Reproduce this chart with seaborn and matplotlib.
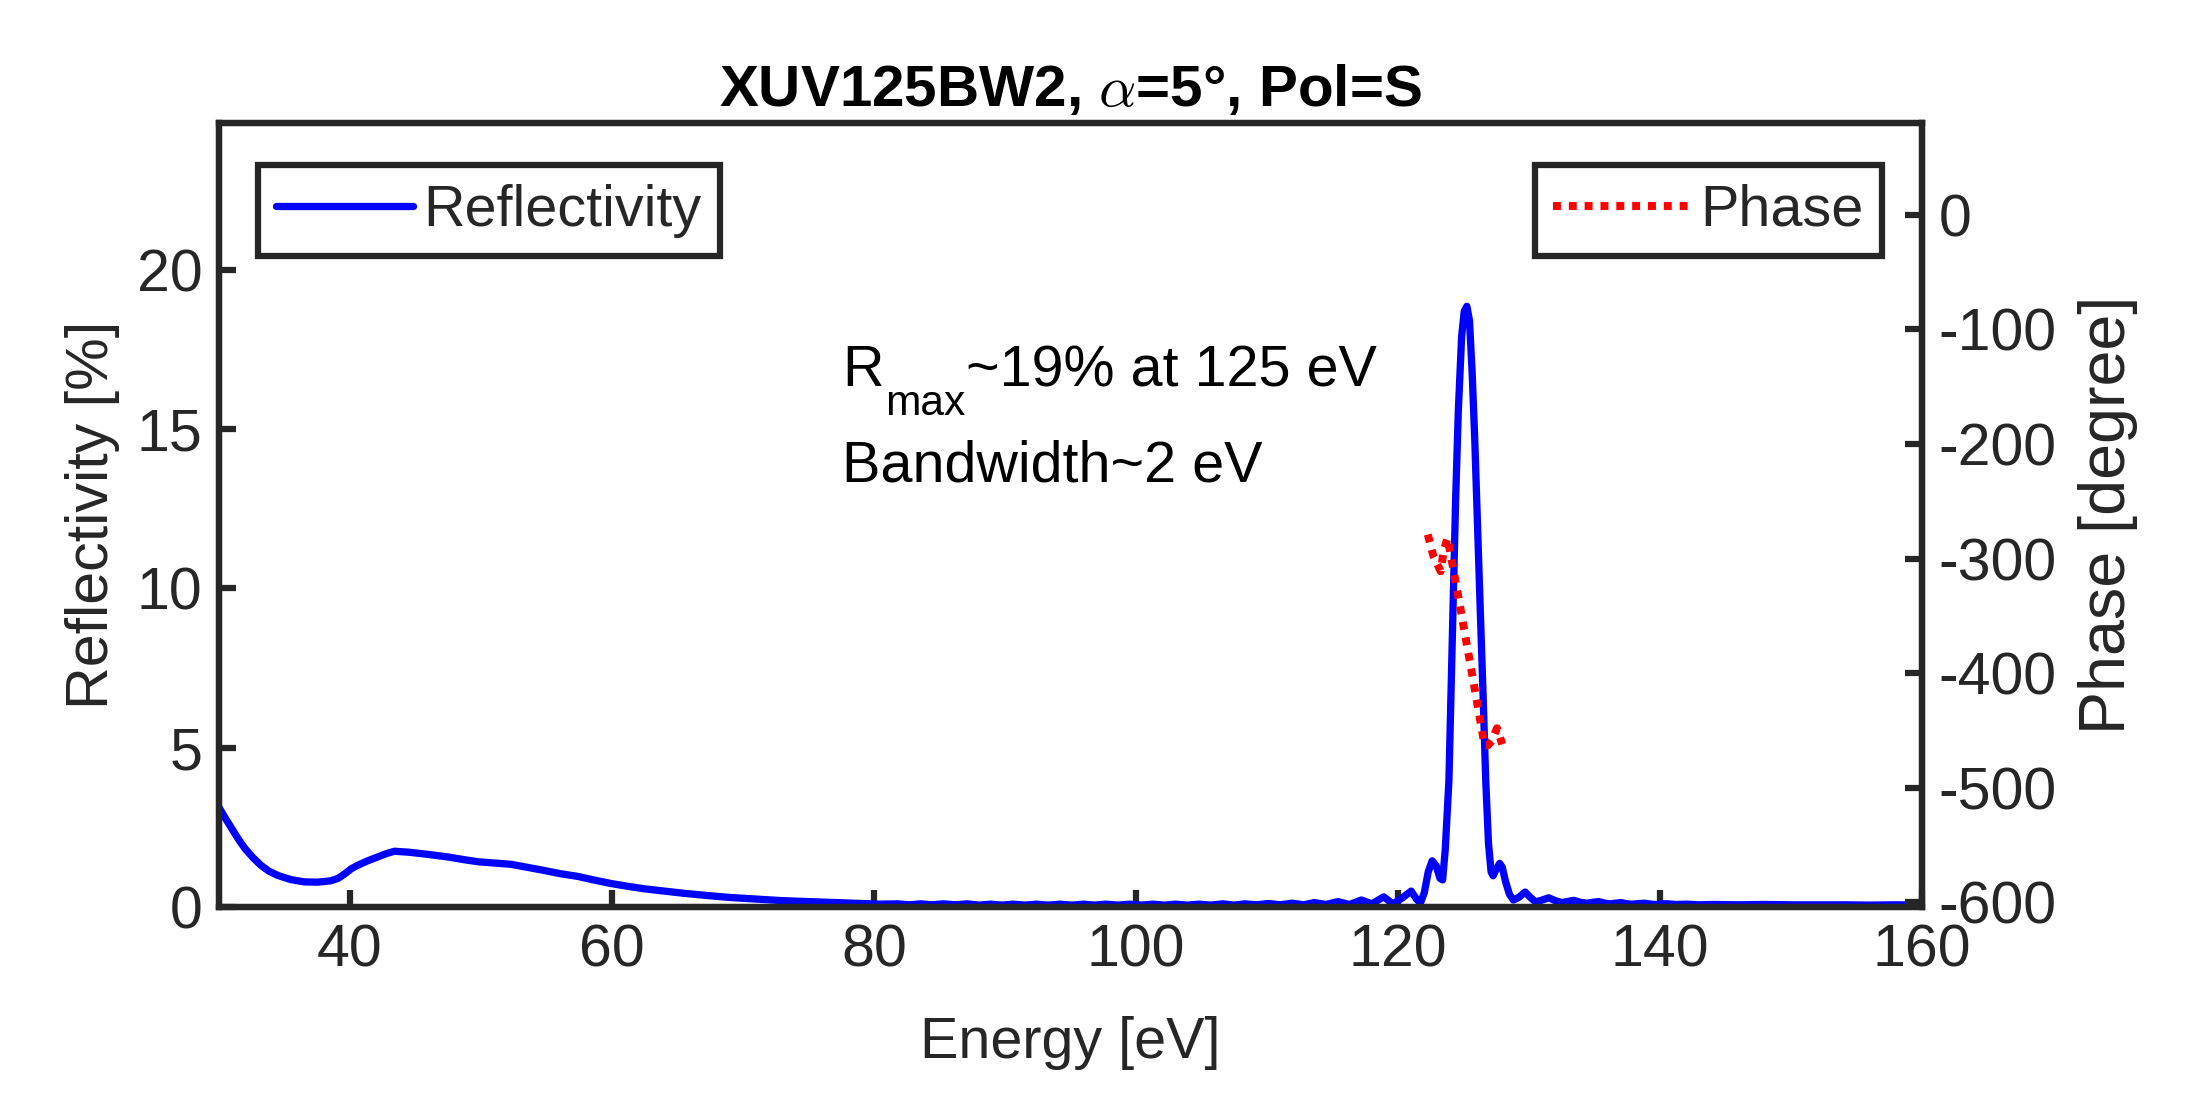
import matplotlib
matplotlib.use("Agg")
import matplotlib.pyplot as plt
import seaborn as sns

# reflectivity curve (energy in eV, R in %)
energy_refl = [30.0, 30.5, 31.0, 31.5, 32.0, 32.6, 33.2, 33.8, 34.5, 35.5,
               36.5, 37.5, 38.5, 39.1, 39.6, 40.1, 40.6, 41.3, 42.1, 42.8,
               43.4, 44.5, 46.0, 47.5, 48.8, 49.8, 51.0, 52.3, 53.5, 54.8,
               56.0, 57.4, 58.6, 59.9, 61.2, 62.5, 64.0, 65.5, 67.3, 69.0,
               71.0, 73.0, 75.0, 77.0, 79.0, 80.5, 81.8, 82.7, 83.6, 84.4,
               85.3, 86.2, 87.1, 88.0, 88.9, 89.8, 90.6, 91.5, 92.4, 93.3,
               94.2, 95.1, 96.0, 96.8, 97.7, 98.6, 99.5, 100.4, 101.3, 102.2,
               103.0, 103.9, 104.8, 105.7, 106.6, 107.5, 108.3, 109.2, 110.1, 111.0,
               111.9, 112.8, 113.6, 114.5, 115.4, 116.3, 117.2, 118.0, 118.9, 119.6,
               120.3, 121.0, 121.4, 121.7, 122.0, 122.3, 122.6, 122.9, 123.2, 123.4,
               123.6, 123.88, 124.1, 124.39, 124.6, 124.85, 125.05, 125.25, 125.45, 125.65,
               125.85, 126.0, 126.25, 126.5, 126.69, 126.9, 127.1, 127.25, 127.45, 127.75,
               127.95, 128.2, 128.5, 128.8, 129.2, 129.7, 130.1, 130.5, 131.0, 131.5,
               132.0, 132.5, 133.0, 133.4, 133.9, 134.4, 134.9, 135.3, 135.8, 136.2,
               136.6, 137.0, 137.5, 137.9, 138.4, 138.8, 139.3, 139.7, 140.2, 140.6,
               141.2, 142.0, 143.0, 144.0, 146.0, 148.0, 150.0, 152.0, 154.0, 156.0,
               158.0, 160.0]
refl_pct = [3.13, 2.78, 2.45, 2.12, 1.83, 1.55, 1.31, 1.13, 0.99, 0.86,
            0.79, 0.78, 0.82, 0.90, 1.04, 1.20, 1.31, 1.44, 1.57, 1.68,
            1.75, 1.72, 1.65, 1.57, 1.48, 1.42, 1.38, 1.34, 1.25, 1.15,
            1.05, 0.96, 0.85, 0.74, 0.65, 0.57, 0.50, 0.43, 0.36, 0.30,
            0.25, 0.20, 0.17, 0.14, 0.11, 0.09, 0.10, 0.07, 0.10, 0.07,
            0.10, 0.07, 0.10, 0.06, 0.09, 0.06, 0.09, 0.06, 0.09, 0.06,
            0.09, 0.06, 0.09, 0.06, 0.09, 0.06, 0.09, 0.06, 0.09, 0.06,
            0.09, 0.06, 0.09, 0.06, 0.10, 0.06, 0.10, 0.07, 0.11, 0.07,
            0.12, 0.07, 0.14, 0.08, 0.17, 0.08, 0.22, 0.10, 0.32, 0.10,
            0.28, 0.50, 0.25, 0.12, 0.45, 1.10, 1.45, 1.30, 0.90, 0.85,
            1.80, 3.97, 7.80, 12.75, 15.6, 17.9, 18.7, 18.85, 18.4, 16.8,
            14.7, 12.75, 9.60, 6.50, 3.97, 2.00, 1.10, 0.98, 1.15, 1.37,
            1.25, 0.80, 0.40, 0.22, 0.30, 0.47, 0.30, 0.16, 0.22, 0.29,
            0.20, 0.14, 0.18, 0.21, 0.15, 0.12, 0.15, 0.17, 0.12, 0.10,
            0.12, 0.14, 0.10, 0.09, 0.11, 0.12, 0.09, 0.08, 0.10, 0.10,
            0.08, 0.09, 0.07, 0.08, 0.07, 0.08, 0.07, 0.07, 0.07, 0.06,
            0.07, 0.06]

# phase (degree), only given around the peak
energy_phase = [122.27, 122.7, 123.25, 123.5, 123.78, 124.5, 125.2, 125.9,
                126.6, 126.85, 127.15, 127.55, 127.95]
phase_deg = [-279, -298, -311, -292, -282, -327, -372, -417,
             -463, -463, -459, -448, -462]

x_ticks = [40, 60, 80, 100, 120, 140, 160]
refl_ticks = [0, 5, 10, 15, 20]
phase_ticks = [0, -100, -200, -300, -400, -500, -600]

sns.set_style("ticks")
plt.rcParams['font.family'] = ['Liberation Sans', 'DejaVu Sans']
plt.rcParams['mathtext.fontset'] = 'cm'
plt.rcParams['axes.unicode_minus'] = False
dark = '#262626'
fs = 13.8
dpi = 300

fig = plt.figure(figsize=(7.29, 3.6467), dpi=dpi)
ax = fig.add_axes([0.1001, 0.1709, 0.7788, 0.7166])
ax2 = ax.twinx()

sns.lineplot(x=energy_refl, y=refl_pct, ax=ax, color='blue', linewidth=1.75,
             sort=False, label='Reflectivity')
sns.lineplot(x=energy_phase, y=phase_deg, ax=ax2, color='red', linewidth=1.9,
             sort=False, label='Phase', linestyle=(0, (1.0, 1.0)))

ax.set_xlim(30, 160)
ax.set_ylim(0, 24.6)
ax2.set_ylim(-604, 80)
ax.set_xticks(x_ticks)
ax.set_yticks(refl_ticks)
ax2.set_yticks(phase_ticks)

ax.tick_params(axis='both', direction='in', length=4, width=1.5, colors=dark,
               labelsize=14.2, pad=4, top=False, right=False)
ax2.tick_params(axis='y', direction='in', length=4, width=1.5, colors=dark,
                labelsize=14.2, pad=4)
for a in (ax, ax2):
    for s in a.spines.values():
        s.set_linewidth(1.5)
        s.set_color(dark)

ax.set_xlabel('Energy [eV]', fontsize=fs, color=dark, labelpad=9)
ax.set_ylabel('Reflectivity [%]', fontsize=14.2, color=dark, labelpad=4)
ax2.set_ylabel('Phase [degree]', fontsize=15.5, color=dark, labelpad=5)
ax.set_title(r'XUV125BW2, $\alpha$=5°, Pol=S', fontsize=14, fontweight='bold',
             color='k', pad=4)

# R_max text, built from pieces so the subscript sits low like in matlab
txt_x, txt_y = 77.55, 16.34
fig.canvas.draw()
rend = fig.canvas.get_renderer()
t_r = ax.text(txt_x, txt_y, 'R', fontsize=fs, va='baseline', color='k')
w_r = t_r.get_window_extent(renderer=rend).width * 72 / dpi
t_sub = ax.annotate('max', xy=(txt_x, txt_y), xytext=(w_r + 0.3, -7.0),
                    textcoords='offset points', fontsize=fs * 0.74,
                    va='baseline', color='k')
w_sub = t_sub.get_window_extent(renderer=rend).width * 72 / dpi
ax.annotate('~19% at 125 eV', xy=(txt_x, txt_y), xytext=(w_r + w_sub + 0.5, 0),
            textcoords='offset points', fontsize=fs, va='baseline', color='k')
ax.text(txt_x, 13.36, 'Bandwidth~2 eV', fontsize=fs, va='baseline', color='k')

# two separate legend boxes like the matlab yyaxis figure
leg_kw = dict(fontsize=fs, handlelength=2.37, handletextpad=0.19, borderpad=0.32,
              fancybox=False, framealpha=1, edgecolor=dark, borderaxespad=0)
leg1 = ax.legend(loc='upper left', bbox_to_anchor=(0.0229, 0.946), **leg_kw)
leg2 = ax2.legend(loc='upper right', bbox_to_anchor=(0.9765, 0.946), **leg_kw)
for leg in (leg1, leg2):
    leg.get_frame().set_linewidth(1.5)

fig.savefig('out.png', dpi=dpi)
